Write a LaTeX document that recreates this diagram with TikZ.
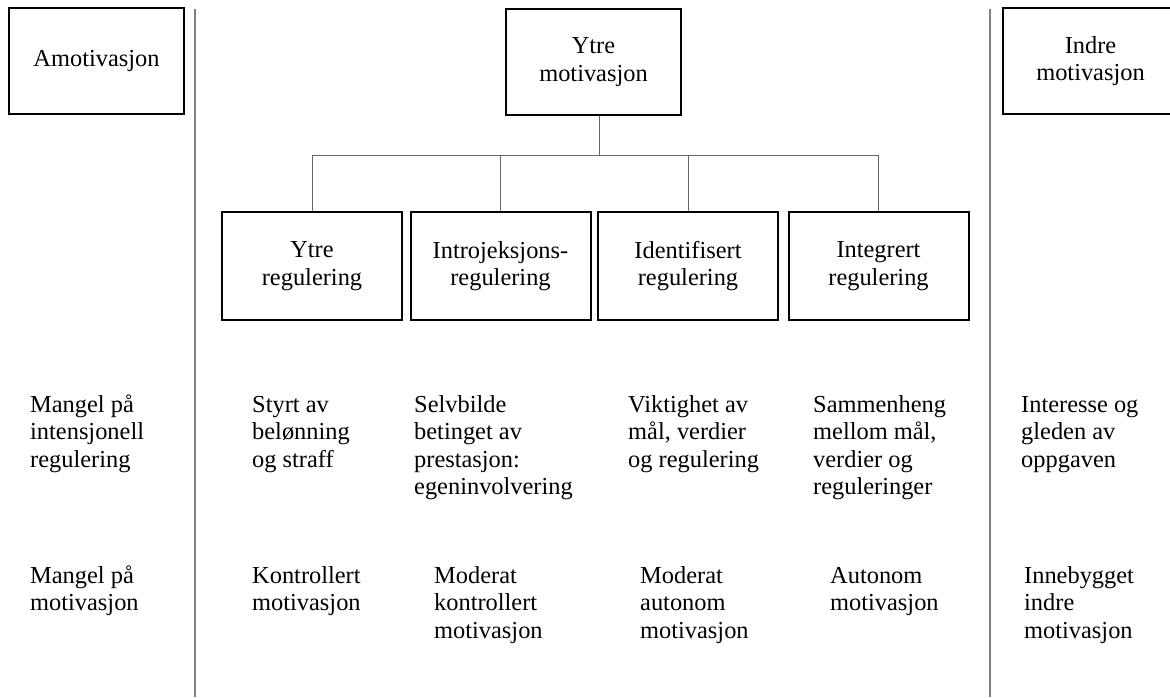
\documentclass[tikz,border=0pt]{standalone}
\usepackage{fontspec}
\setmainfont{Liberation Serif}
\begin{document}
\begin{tikzpicture}[x=1pt,y=-1pt,
  txt/.style={font=\fontsize{24.4}{27.5}\selectfont},
  box/.style={txt, draw=black, line width=2pt, minimum width=175pt, minimum height=106pt, align=center, inner sep=0pt},
  sub/.style={box, minimum width=180pt, minimum height=108pt},
  lbl/.style={txt, anchor=base west, align=left, inner sep=0pt},
  conn/.style={draw=black!60, line width=1pt},
  divider/.style={draw=black!50, line width=1.6pt}]
\useasboundingbox (0,0) rectangle (1170,697);

% top boxes
\node[box] (amo) at (96.5,61) {Amotivasjon};
\node[box] (ytre) at (593.5,62) {Ytre\\motivasjon};
\node[box] (indre) at (1090.5,61) {Indre\\motivasjon};

% regulation boxes
\node[sub] (r1) at (312,266) {Ytre\\regulering};
\node[sub] (r2) at (500.5,266) {Introjeksjons-\\regulering};
\node[sub] (r3) at (688,266) {Identifisert\\regulering};
\node[sub] (r4) at (878.5,266) {Integrert\\regulering};

% tree connectors
\coordinate (bar) at (599,155);
\draw[conn] (bar |- ytre.south) -- (bar);
\draw[conn] (r1.north |- bar) -- (r4.north |- bar);
\draw[conn] (r1.north |- bar) -- (r1.north);
\draw[conn] (r2.north |- bar) -- (r2.north);
\draw[conn] (r3.north |- bar) -- (r3.north);
\draw[conn] (r4.north |- bar) -- (r4.north);

% dividers
\coordinate (d1t) at (195,9);
\coordinate (d1b) at (195,697);
\coordinate (d2t) at (990,9);
\coordinate (d2b) at (990,697);
\draw[divider] (d1t) -- (d1b);
\draw[divider] (d2t) -- (d2b);

% row 1 (anchor = baseline of last line)
\node[lbl] (a1) at (30,467) {Mangel på\\intensjonell\\regulering};
\node[lbl] (b1) at (252,467) {Styrt av\\belønning\\og straff};
\node[lbl] (c1) at (414,494.5) {Selvbilde\\betinget av\\prestasjon:\\egeninvolvering};
\node[lbl] (e1) at (628,467) {Viktighet av\\mål, verdier\\og regulering};
\node[lbl] (f1) at (813,494.5) {Sammenheng\\mellom mål,\\verdier og\\reguleringer};
\node[lbl] (g1) at (1021,467) {Interesse og\\gleden av\\oppgaven};

% row 2
\node[lbl] (a2) at (30,610.5) {Mangel på\\motivasjon};
\node[lbl] (b2) at (252,610.5) {Kontrollert\\motivasjon};
\node[lbl] (c2) at (434,638) {Moderat\\kontrollert\\motivasjon};
\node[lbl] (e2) at (640,638) {Moderat\\autonom\\motivasjon};
\node[lbl] (f2) at (830,610.5) {Autonom\\motivasjon};
\node[lbl] (g2) at (1024,638) {Innebygget\\indre\\motivasjon};
\end{tikzpicture}
\end{document}
